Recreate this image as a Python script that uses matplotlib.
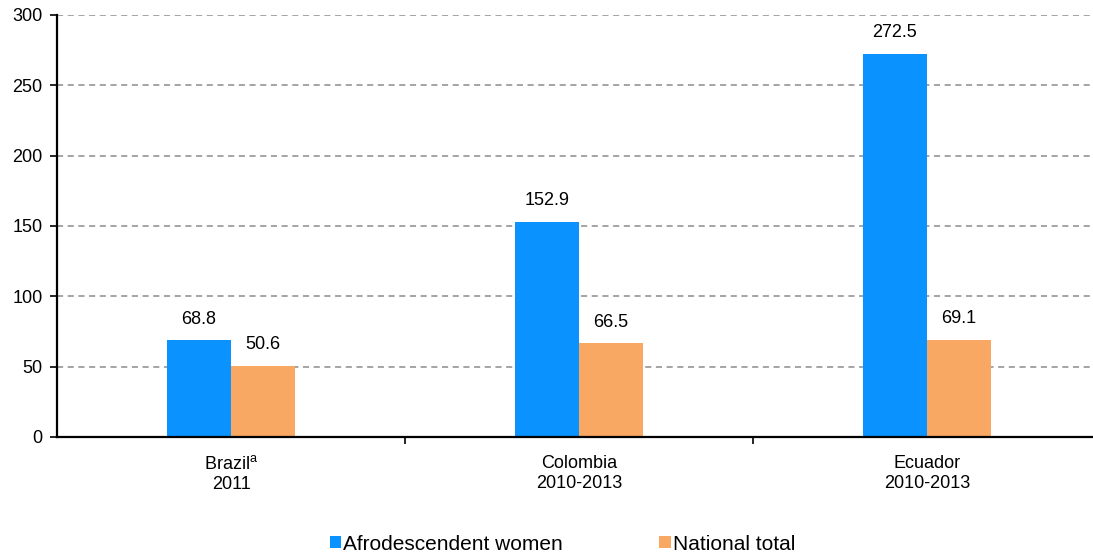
import matplotlib
matplotlib.use("Agg")
import matplotlib.pyplot as plt
import numpy as np

plt.rcParams['font.family'] = ['Liberation Sans', 'DejaVu Sans']
plt.rcParams['mathtext.fontset'] = 'custom'
plt.rcParams['mathtext.rm'] = 'Liberation Sans'

categories = ["Brazil$^{\\mathrm{a}}$\n2011", "Colombia\n2010-2013", "Ecuador\n2010-2013"]
afro_women = [68.8, 152.9, 272.5]
national_total = [50.6, 66.5, 69.1]
series_names = ["Afrodescendent women", "National total"]

blue = '#0a93ff'
orange = '#f8a862'

fig = plt.figure(figsize=(10.93, 5.54), dpi=100)
ax = fig.add_axes([0.0522, 0.2112, 0.9478, 0.7618])

x = np.arange(len(categories))
w = 0.184
b1 = ax.bar(x - w/2, afro_women, w, color=blue, label=series_names[0], zorder=3)
b2 = ax.bar(x + w/2, national_total, w, color=orange, label=series_names[1], zorder=3)

for bars, vals in ((b1, afro_women), (b2, national_total)):
    for r, v in zip(bars, vals):
        ax.annotate(f"{v:.1f}", (r.get_x() + r.get_width()/2, v), xytext=(0, 9),
                    textcoords='offset points', ha='center', va='bottom', fontsize=13)

ax.set_xlim(-0.5, 2.477)
ax.set_ylim(0, 300)
ax.set_yticks(range(0, 301, 50))
ax.yaxis.grid(True, color='#8c8c8c', linestyle=(0, (4, 3)), linewidth=1.1, zorder=0)

# separators between groups as major ticks, labels on minor ticks
ax.set_xticks([0.5, 1.5])
ax.set_xticklabels([])
ax.set_xticks(x, minor=True)
ax.set_xticklabels(categories, minor=True, fontsize=13)
ax.tick_params(axis='x', which='major', length=5, width=1.2, direction='out')
ax.tick_params(axis='x', which='minor', length=0, pad=13)
ax.tick_params(axis='y', length=5, width=1.2, labelsize=13, pad=5.5)

for s in ('top', 'right'):
    ax.spines[s].set_visible(False)
for s in ('left', 'bottom'):
    ax.spines[s].set_linewidth(1.6)
    ax.spines[s].set_zorder(4)

fig.legend(loc='center', bbox_to_anchor=(0.5146, 0.018), ncol=2, frameon=False,
           fontsize=15, handlelength=0.55, handleheight=0.55, handletextpad=0.12,
           columnspacing=4.6)

fig.savefig("out.png", dpi=100)
